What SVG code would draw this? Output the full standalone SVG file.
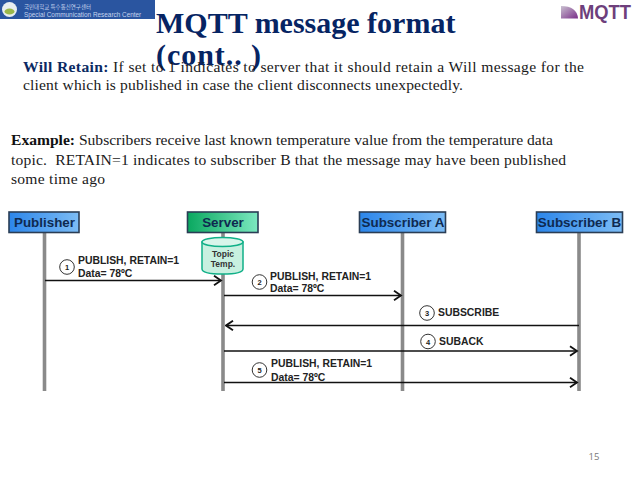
<svg xmlns="http://www.w3.org/2000/svg" width="638" height="478" viewBox="0 0 638 478">
<style>
.body{font-family:"Liberation Serif","Times New Roman",serif;font-size:15.6px;fill:#1a1a1a;white-space:pre}
.bl{font-weight:bold;fill:#0b2a63}
.ex{font-weight:bold;fill:#111}
.title{font-family:"Liberation Serif",serif;font-size:30px;font-weight:bold;fill:#062463}
.nodebox{stroke:#2a3d55;stroke-width:1.6}
.nodetxt{font-family:"Liberation Sans",Arial,sans-serif;font-size:13.4px;font-weight:bold;fill:#0f2a50;text-anchor:middle}
.msg{font-family:"Liberation Sans",Arial,sans-serif;font-size:10.4px;font-weight:bold;fill:#222}
.life{stroke:#8a8a8a;stroke-width:3.6;fill:none}
.arrow{stroke:#111;stroke-width:1.7;fill:none;marker-end:url(#ah)}
.num{fill:#fff;stroke:#333;stroke-width:1}
.numt{font-family:"Liberation Sans",Arial,sans-serif;font-size:7.5px;font-weight:bold;fill:#222;text-anchor:middle}
</style>
<defs>
<marker id="ah" markerUnits="userSpaceOnUse" markerWidth="10" markerHeight="12" refX="8.5" refY="6" orient="auto"><path d="M1.5 1.2L8.5 6L1.5 10.8" fill="none" stroke="#111" stroke-width="1.8"/></marker>
<linearGradient id="blue" x1="0" x2="1" y1="0" y2="0"><stop offset="0" stop-color="#2c86ea"/><stop offset="1" stop-color="#7cbcf5"/></linearGradient>
<linearGradient id="green" x1="0" x2="1" y1="0" y2="0"><stop offset="0" stop-color="#0aa860"/><stop offset="1" stop-color="#7ce8c0"/></linearGradient>
<linearGradient id="mq" x1="0" x2="1" y1="0" y2="1"><stop offset="0" stop-color="#c9c0d0"/><stop offset="1" stop-color="#7a2e88"/></linearGradient>
</defs>
<rect width="638" height="478" fill="#fff"/>
<g id="header-band">
<rect x="0" y="0" width="155" height="19" fill="#2a55a0"/>
<circle cx="9.500" cy="9.500" r="7.500" fill="#e8eef0"/>
<ellipse cx="9.500" cy="11.500" rx="5" ry="3" fill="#9ab84a"/>
<text x="24" y="8.500" font-family="'Noto Sans CJK KR','Liberation Sans',sans-serif" font-size="5.500" fill="#c4d4ee">국민대학교 특수통신연구센터</text>
<text x="24" y="16.500" font-family="'Liberation Sans',sans-serif" font-size="6.400" fill="#c4d4ee">Special Communication Research Center</text>
</g>
<g id="mqtt-logo">
<path d="M561 18.500V6Q577 6 578 18.500Z" fill="url(#mq)"/>
<text x="579" y="18.500" font-family="'Liberation Sans',sans-serif" font-size="20" font-weight="bold" fill="#6e3f7c" textLength="52" lengthAdjust="spacingAndGlyphs">MQTT</text>
</g>
<g id="title">
<text class="title" x="156" y="33">MQTT message format</text>
<text class="title" x="156" y="65" textLength="105" lengthAdjust="spacing">(cont.. )</text>
</g>
<g id="body-text">
<text class="body" x="23" y="72" textLength="561" lengthAdjust="spacing"><tspan class="bl">Will Retain:</tspan> If set to 1 indicates to server that it should retain a Will message for the</text>
<text class="body" x="23" y="90" textLength="440" lengthAdjust="spacing">client which is published in case the client disconnects unexpectedly.</text>
<text class="body" x="11" y="145" textLength="542" lengthAdjust="spacing"><tspan class="ex">Example:</tspan> Subscribers receive last known temperature value from the temperature data</text>
<text class="body" x="11" y="165" textLength="555" lengthAdjust="spacing" xml:space="preserve">topic.  RETAIN=1 indicates to subscriber B that the message may have been published</text>
<text class="body" x="11" y="184" textLength="94" lengthAdjust="spacing">some time ago</text>
</g>
<g id="connectors">
<path class="life" d="M44.500 232V391M223 232V391M402.500 232V391M579 232V391"/>
<path class="arrow" d="M45 280.500H221"/>
<path class="arrow" d="M224 295.500H401"/>
<path class="arrow" d="M579 325.500H226"/>
<path class="arrow" d="M224 351H577"/>
<path class="arrow" d="M224 382.500H577"/>
</g>
<g id="publisher"><rect class="nodebox" x="9" y="212" width="70" height="20.500" fill="url(#blue)"/><text class="nodetxt" x="44.500" y="227">Publisher</text></g>
<g id="server"><rect class="nodebox" x="187.500" y="212" width="70.500" height="20.500" fill="url(#green)"/><text class="nodetxt" x="223" y="227">Server</text></g>
<g id="subscriber-a"><rect class="nodebox" x="359.500" y="212" width="86" height="20.500" fill="url(#blue)"/><text class="nodetxt" x="403" y="227">Subscriber A</text></g>
<g id="subscriber-b"><rect class="nodebox" x="536.500" y="212" width="86" height="20.500" fill="url(#blue)"/><text class="nodetxt" x="579.500" y="227">Subscriber B</text></g>
<g id="topic-store">
<path d="M202 242V269Q202 274 222.500 274Q243 274 243 269V242Z" fill="#c8f0e0" stroke="#10b088" stroke-width="1.500"/>
<ellipse cx="222.500" cy="242" rx="20.500" ry="4.500" fill="#d8f5ea" stroke="#10b088" stroke-width="1.500"/>
<text x="223" y="257" font-family="'Liberation Sans',sans-serif" font-size="8.500" font-weight="bold" fill="#333" text-anchor="middle">Topic</text>
<text x="223" y="267" font-family="'Liberation Sans',sans-serif" font-size="8.500" font-weight="bold" fill="#333" text-anchor="middle">Temp.</text>
</g>
<g id="msg1"><circle class="num" cx="67" cy="267" r="7.300"/><text class="numt" x="67" y="270">1</text><text class="msg" x="78" y="264">PUBLISH, RETAIN=1</text><text class="msg" x="78" y="277">Data= 78ºC</text></g>
<g id="msg2"><circle class="num" cx="259.500" cy="282" r="7.300"/><text class="numt" x="259.500" y="285">2</text><text class="msg" x="270" y="280">PUBLISH, RETAIN=1</text><text class="msg" x="270" y="292">Data= 78ºC</text></g>
<g id="msg3"><circle class="num" cx="427" cy="313" r="7.300"/><text class="numt" x="427" y="316">3</text><text class="msg" x="438" y="316">SUBSCRIBE</text></g>
<g id="msg4"><circle class="num" cx="428" cy="341.500" r="7.300"/><text class="numt" x="428" y="344.500">4</text><text class="msg" x="439" y="345">SUBACK</text></g>
<g id="msg5"><circle class="num" cx="259.500" cy="370" r="7.300"/><text class="numt" x="259.500" y="373">5</text><text class="msg" x="271" y="367">PUBLISH, RETAIN=1</text><text class="msg" x="271" y="381">Data= 78ºC</text></g>
<g id="page-number"><text x="594" y="460" font-family="'Open Sans','Liberation Sans',sans-serif" font-size="9.500" fill="#7a7a7a" text-anchor="middle">15</text></g>
</svg>
